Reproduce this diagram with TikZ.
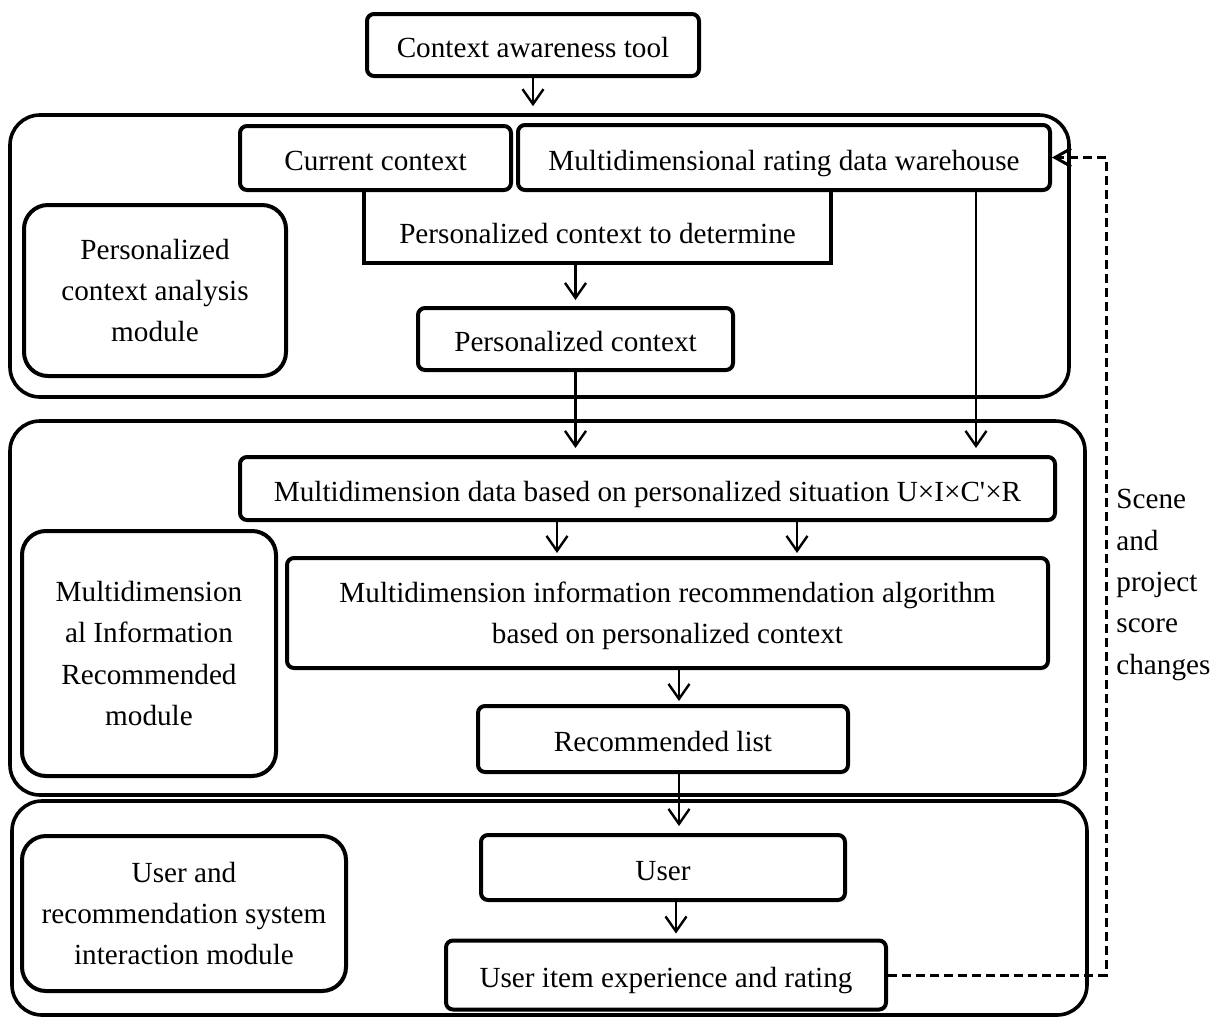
\documentclass[tikz,border=0pt]{standalone}
\usepackage{fontspec}
\setmainfont{Liberation Serif}
\usetikzlibrary{arrows.meta}
\begin{document}
\begin{tikzpicture}[x=0.5pt,y=-0.5pt,
  every node/.style={font=\fontsize{14.6}{20.7}\selectfont, inner sep=0pt, align=center},
  bx/.style={draw, line width=2pt, rounded corners=3.5pt},
  one/.style={text height=12.6pt, text depth=0pt},
  side/.style={draw, line width=2pt, rounded corners=12pt},
  module/.style={draw, line width=1.8pt, rounded corners=15pt},
  arr/.style={line width=1.2pt, -{Straight Barb[length=7.5pt,width=10.5pt]}},
  dsh/.style={line width=1.5pt, dash pattern=on 4.5pt off 2.5pt, -{Straight Barb[length=8pt,width=9pt]}}
]
\useasboundingbox (0,0) rectangle (1217,1018);

% modules
\node[module, minimum width=529.5pt, minimum height=141pt] (m1) at (539.5,256) {};
\node[module, minimum width=537.5pt, minimum height=187pt] (m2) at (547.5,608) {};
\node[module, minimum width=537.5pt, minimum height=107pt] (m3) at (549.5,908) {};

% top
\node[bx, one, minimum width=166pt, minimum height=31pt] (cat) at (533,45) {Context awareness tool};

% module 1
\node[bx, one, minimum width=135.5pt, minimum height=32pt] (cc) at (375.5,158) {Current context};
\node[bx, one, minimum width=266pt, minimum height=32.5pt] (wh) at (784,157.5) {Multidimensional rating data warehouse};
\node[minimum width=233.5pt, minimum height=34pt] (det) at (597.5,229) {};
\node[one] (dettext) at (597.5,231) {Personalized context to determine};
\node[bx, one, minimum width=157.5pt, minimum height=31pt] (pc) at (575.5,339) {Personalized context};
\node[side, minimum width=131pt, minimum height=85.5pt] (pcam) at (155,290.5) {Personalized\\context analysis\\module};

% module 2
\node[bx, one, minimum width=407.5pt, minimum height=31.5pt] (md) at (647.5,488.5) {Multidimension data based on personalized situation U×I×C\textquotesingle×R};
\node[bx, minimum width=380.5pt, minimum height=55pt] (alg) at (667.5,613) {\rule{0pt}{13pt}Multidimension information recommendation algorithm\\based on personalized context};
\node[bx, one, minimum width=185pt, minimum height=33pt] (rl) at (663,739) {Recommended list};
\node[side, minimum width=127pt, minimum height=122.5pt] (mirm) at (149,653.5) {Multidimension\\al Information\\Recommended\\module};

% module 3
\node[bx, one, minimum width=182pt, minimum height=32.5pt] (user) at (663,867.5) {User};
\node[bx, one, minimum width=220pt, minimum height=34.5pt] (uie) at (666,975) {User item experience and rating};
\node[side, minimum width=162pt, minimum height=77.5pt] (ursim) at (184,913.5) {User and\\recommendation system\\interaction module};

\node[anchor=west, align=left] (scene) at (1116,585) {Scene\\and\\project\\score\\changes};

% open box of "to determine"
\draw[line width=2pt] (det.south west |- cc.south) -- (det.south west) -- (det.south east) -- (det.south east |- wh.south);

% coordinates for arrows
\coordinate (whx) at ([xshift=96pt]wh.south);
\coordinate (mda) at ([xshift=-55.25pt]alg.north);
\coordinate (mdb) at ([xshift=64.75pt]alg.north);
\coordinate (alx) at ([xshift=5.75pt]alg.south);
\coordinate (rlx) at ([xshift=8pt]rl.south);
\coordinate (usx) at ([xshift=6.5pt]user.south);
\coordinate (fb) at (1106,0);

% arrows
\draw[arr, shorten >=3.5pt] (cat.south) -- (cat.south |- m1.north);
\draw[arr, shorten >=3pt] (pc.north |- det.south) -- (pc.north);
\draw[arr, shorten >=3.5pt] (pc.south) -- (pc.south |- md.north);
\draw[arr, shorten >=3.5pt] (whx) -- (whx |- md.north);
\draw[arr, shorten >=1.5pt] (mda |- md.south) -- (mda);
\draw[arr, shorten >=1.5pt] (mdb |- md.south) -- (mdb);
\draw[arr, shorten >=1.5pt] (alx) -- (alx |- rl.north);
\draw[arr, shorten >=3.5pt] (rlx) -- (rlx |- user.north);
\draw[arr, shorten >=2.5pt] (usx) -- (usx |- uie.north);
\draw[dsh] (uie.east) -| (fb |- wh.east) -- (wh.east);
\end{tikzpicture}
\end{document}
